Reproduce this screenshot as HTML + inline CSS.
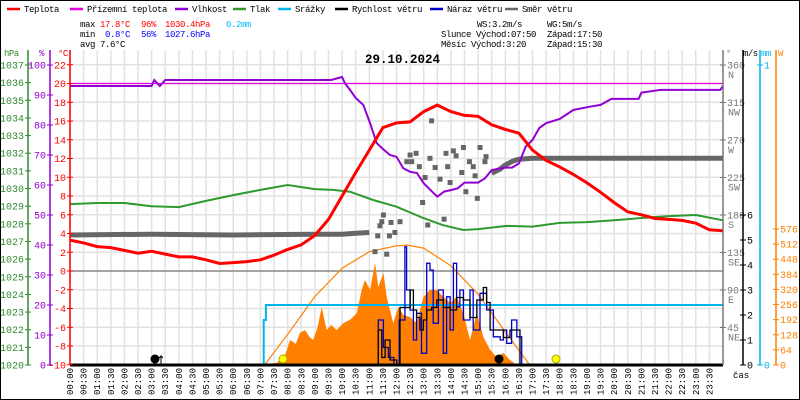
<!DOCTYPE html>
<html><head><meta charset="utf-8"><style>
html,body{margin:0;padding:0;background:#fff}
svg{display:block;font-family:"Liberation Mono",monospace}
</style></head><body>
<svg id="c" width="800" height="400" viewBox="0 0 800 400" xmlns="http://www.w3.org/2000/svg">
<rect x="0.5" y="0.5" width="799" height="399" fill="#fff" stroke="#000"/>
<g id="grid"></g>
<g id="series"></g>
<g id="axes"></g>
<g id="legend" font-size="9" letter-spacing="-0.4"></g>
<g font-size="9" letter-spacing="-0.4">
<text x="80" y="27">max</text><text x="100" y="27" fill="#f00">17.8°C</text><text x="141" y="27" fill="#f00">96%</text><text x="165" y="27" fill="#f00">1030.4hPa</text><text x="226" y="27" fill="#0bf">0.2mm</text>
<text x="80" y="37">min</text><text x="105" y="37" fill="#00f">0.8°C</text><text x="141" y="37" fill="#00f">56%</text><text x="165" y="37" fill="#00f">1027.6hPa</text>
<text x="80" y="47">avg</text><text x="100" y="47">7.6°C</text>
<text x="477" y="27">WS:3.2m/s</text><text x="547" y="27">WG:5m/s</text>
<text x="441" y="37">Slunce Východ:07:50</text><text x="547" y="37">Západ:17:50</text>
<text x="441" y="47">Měsíc  Východ:3:20</text><text x="547" y="47">Západ:15:30</text>
</g>
<text x="365" y="63" font-size="12.5" font-weight="bold">29.10.2024</text>
</svg>
<script>
// ---- data ----
const tempHours=[0,0.5,1,1.5,2,2.5,3,3.5,4,4.5,5,5.5,6,6.5,7,7.5,8,8.5,9,9.5,10,10.5,11,11.5,12,12.5,13,13.5,14,14.5,15,15.5,16,16.5,17,17.5,18,18.5,19,19.5,20,20.5,21,21.5,22,22.5,23,23.5,24];
const tempValues=[3.3,3.0,2.6,2.5,2.2,1.9,2.1,1.8,1.5,1.5,1.2,0.8,0.9,1.0,1.2,1.7,2.3,2.8,3.8,5.5,8.0,10.5,12.9,15.3,15.8,15.9,17.0,17.7,17.0,16.6,16.5,15.6,15.1,14.7,12.9,11.8,11.1,10.3,9.4,8.4,7.3,6.3,6.0,5.6,5.5,5.4,5.1,4.4,4.3];
const humHours=[0,3,3.1,3.3,3.5,9.6,10.0,10.1,10.29,10.5,10.78,11.03,11.27,11.5,11.76,12.0,12.25,12.5,12.75,13.0,13.25,13.5,13.75,14.0,14.25,14.5,15.0,15.25,15.5,16.0,16.25,16.5,16.75,17.0,17.25,17.5,18.0,18.5,19.1,19.5,19.9,20.9,21.0,21.7,23.9,24];
const humValues=[93,93,95,93,95,95,96,94,91.7,89,86.7,80.6,74,72,70,69.4,65.6,64.4,64,60.6,58.3,56.1,57.8,58.3,58.9,60.8,60.8,62.2,65,65.8,65.8,67.2,72.8,75,79,80.6,82,85,86.1,86.7,88.7,88.7,90.8,91.7,91.7,93];
const presHours=[0,1,2,3,4,5,6,7,8,9,9.67,10.29,11.14,12,12.98,13.7,14.45,15,16.05,17,18,19,20,21,22,23,24];
const presValues=[1029.12,1029.18,1029.18,1029.0,1028.95,1029.3,1029.63,1029.92,1030.2,1029.97,1029.92,1029.82,1029.35,1028.97,1028.33,1027.93,1027.65,1027.7,1027.88,1027.84,1028.05,1028.1,1028.2,1028.33,1028.44,1028.5,1028.2];
const dirLineHours=[0,3,6,9,10,10.5,11.0];
const dirLineValues=[156,157,156,157,157,158,159];
const dirLine2Hours=[15.5,15.8,16,16.3,16.5,17,20,24];
const dirLine2Values=[230,235,240,245,247,248,248,248];
const dirPtHours=[13.29,12.50,12.72,12.38,12.56,12.84,13.23,13.42,13.82,14.09,14.19,14.46,14.68,14.82,15.07,15.29,15.25,13.88,14.40,13.05,13.60,13.97,14.89,14.55,14.97,12.96,13.75,13.15,11.52,11.46,11.39,11.80,12.13,11.31,11.74,11.94,11.21,11.64];
const dirPtValues=[293,252,254,244,244,238,248,237,254,257,251,261,244,238,261,250,244,238,231,225,223,219,227,208,200,195,175,168,180,172,167,171,172,155,155,159,136,133];
const solarHours=[7.15,7.6,7.9,8.09,8.3,8.45,8.64,8.8,8.94,9.1,9.25,9.43,9.6,9.80,10.05,10.29,10.54,10.72,10.84,11.03,11.21,11.33,11.52,11.64,11.88,12.07,12.25,12.50,12.74,12.99,13.23,13.48,13.72,13.97,14.21,14.46,14.70,14.95,15.19,15.44,15.68,15.93,16.17,16.42];
const solarValues=[0,10,40,106,90,136,148,120,106,160,246,148,170,148,178,191,220,318,360,318,432,330,390,288,178,246,212,203,178,288,318,318,288,263,288,220,106,220,119,64,34,51,21,0];
const theoHours=[7.15,8,9,10,11,12,12.4,13,14,15,16,16.9];
const theoValues=[0,130,290,410,480,505,508,495,420,300,140,0];
const windHours=[11.15,11.33,11.46,11.58,11.76,12.01,12.13,12.31,12.50,12.62,12.74,12.86,12.99,13.11,13.29,13.48,13.72,13.97,14.21,14.46,14.70,14.95,15.19,15.31,15.44,15.62,15.93,16.17,16.36,16.54];
const windValues=[0,1.4,0.3,1.0,0.2,0,2.3,2.3,3.0,2.2,1.9,1.4,1.8,2.2,2.3,2.6,2.3,2.2,2.7,2.6,1.9,2.6,3.1,2.5,1.4,1.4,1.1,1.4,1.4,0];
const gustHours=[11.21,11.33,11.52,11.7,11.9,12.1,12.31,12.37,12.50,12.62,12.74,12.92,13.11,13.23,13.35,13.54,13.72,13.84,13.97,14.09,14.21,14.33,14.46,14.70,14.82,15.07,15.31,15.56,15.81,15.93,16.05,16.23,16.42,16.6];
const gustValues=[0,1.8,0.7,0.3,0,1.8,4.73,3.0,2.2,1.0,2.07,0.47,4.07,3.8,1.67,3.0,0.47,2.73,1.4,4.07,2.33,3.0,1.8,3.0,1.4,2.87,2.2,1.13,1.0,1.4,0.87,1.8,1.13,0];
const rainHours=[0,7.08,7.12,7.2,24];
const rainValues=[0,0,0.15,0.2,0.2];
const timeLabels=["00:00","00:30","01:00","01:30","02:00","02:30","03:00","03:30","04:00","04:30","05:00","05:30","06:00","06:30","07:00","07:30","08:00","08:30","09:00","09:30","10:00","10:30","11:00","11:30","12:00","12:30","13:00","13:30","14:00","14:30","15:00","15:30","16:00","16:30","17:00","17:30","18:00","18:30","19:00","19:30","20:00","20:30","21:00","21:30","22:00","22:30","23:00","23:30"];
const tempTicks=[22,20,18,16,14,12,10,8,6,4,2,0,-2,-4,-6,-8,-10];
const presTicks=[1037,1036,1035,1034,1033,1032,1031,1030,1029,1028,1027,1026,1025,1024,1023,1022,1021,1020];
const humTicks=[100,90,80,70,60,50,40,30,20,10,0];
const dirTicks=[360,315,270,225,180,135,90,45];
const dirNames=["N","NW","W","SW","S","SE","E","NE"];
const windTicks=[6,5,4,3,2,1,0];
const rainTicks=[1,0];
const solarTicks=[576,512,448,384,320,256,192,128,64,0];

// ---- scales ----
const X=h=>70+h*27.208;
const yT=t=>271-t*9.375;
const yP=p=>365-(p-1020)*17.647;
const yH=v=>365-v*3;
const yD=d=>365-d*0.8333;
const yW=v=>365-v*25;
const yR=v=>365-v*300;
const yS=v=>365-v*0.2361;
const NS="http://www.w3.org/2000/svg";
function mk(tag,attrs,parent){const e=document.createElementNS(NS,tag);for(const k in attrs)e.setAttribute(k,attrs[k]);parent.appendChild(e);return e;}
const grid=document.getElementById('grid'),ser=document.getElementById('series'),ax=document.getElementById('axes'),leg=document.getElementById('legend');

// grid
tempTicks.forEach(t=>{const l=mk('line',{x1:70,x2:723,y1:yT(t),y2:yT(t),stroke:'#e2e2e2','stroke-width':1.5},grid);

});
timeLabels.forEach((s,i)=>{const x=X(i*0.5);const l=mk('line',{x1:x,x2:x,y1:50,y2:365,stroke:'#e2e2e2','stroke-width':1.5},grid);

});
const zl=mk('line',{x1:70,x2:723,y1:yT(0),y2:yT(0),stroke:'#777','stroke-width':1.3},grid);



function pts(hs,vs,fy){return hs.map((h,i)=>X(h).toFixed(1)+','+fy(vs[i]).toFixed(1)).join(' ');}
function step(hs,vs,fy){let s='';hs.forEach((h,i)=>{if(i>0)s+=X(h).toFixed(1)+','+fy(vs[i-1]).toFixed(1)+' ';s+=X(h).toFixed(1)+','+fy(vs[i]).toFixed(1)+' ';});return s;}

// solar area
let sp=X(solarHours[0])+','+365+' '+pts(solarHours,solarValues,yS)+' '+X(solarHours[solarHours.length-1])+',365';
const sa=mk('polygon',{points:sp,fill:'#ff8000'},ser);


const th=mk('polyline',{points:pts(theoHours,theoValues,yS),fill:'none',stroke:'#ff8000','stroke-width':1.2},ser);


// ground temp line
const gt=mk('line',{x1:70,x2:723,y1:yT(20),y2:yT(20),stroke:'#e000e0','stroke-width':1.3},ser);


// rain
const rn=mk('polyline',{points:step(rainHours,rainValues,yR),fill:'none',stroke:'#00b4f0','stroke-width':2},ser);


// wind direction
const d1=mk('polyline',{points:pts(dirLineHours,dirLineValues,yD),fill:'none',stroke:'#666','stroke-width':5},ser);


const d2=mk('polyline',{points:pts(dirLine2Hours,dirLine2Values,yD),fill:'none',stroke:'#666','stroke-width':5},ser);


dirPtHours.forEach((h,i)=>{const r=mk('rect',{x:X(h)-2.5,y:yD(dirPtValues[i])-2.5,width:5,height:5,fill:'#666'},ser);

});
// pressure, humidity, temp
const pr=mk('polyline',{points:pts(presHours,presValues,yP),fill:'none',stroke:'#2e9a2e','stroke-width':2},ser);


const hu=mk('polyline',{points:pts(humHours,humValues,yH),fill:'none',stroke:'#9400d3','stroke-width':2},ser);


const te=mk('polyline',{points:pts(tempHours,tempValues,yT),fill:'none',stroke:'#f00','stroke-width':3},ser);


// wind
const gu=mk('polyline',{points:step(gustHours,gustValues,yW),fill:'none',stroke:'#0000c8','stroke-width':1.3},ser);


const ws=mk('polyline',{points:step(windHours,windValues,yW),fill:'none',stroke:'#000','stroke-width':1.3},ser);


const base=mk('line',{x1:70,x2:723,y1:365,y2:365,stroke:'#000','stroke-width':3},ser);


// sun / moon markers
[[155,'#000'],[283,'#ff0'],[499,'#000'],[556,'#ff0']].forEach(m=>{const c=mk('circle',{cx:m[0],cy:359,r:4,fill:m[1],stroke:m[1]=='#000'?'#000':'#aa0'},ser);

});
mk('polyline',{points:'161,365 161,356 159,358 161,356 163,358',fill:'none',stroke:'#000'},ser);

// axes
function axis(x,color,ticks,fy,fmt,side,name){
 const a=mk('line',{x1:x,x2:x,y1:50,y2:365,stroke:color,'stroke-width':1.5},ax);
 
 
 ticks.forEach((t,i)=>{const y=fy(t);mk('line',{x1:x-3,x2:x+3,y1:y,y2:y,stroke:color},ax);
  const tx=mk('text',{x:side<0?x-4:x+4,y:y+3.5,fill:color,'font-size':10,'text-anchor':side<0?'end':'start'},ax);tx.textContent=fmt(t,i);});
}
axis(28,'#2e8b2e',presTicks,yP,t=>t,-1,'pressure-axis');
axis(50,'#9400d3',humTicks,yH,t=>t,-1,'humidity-axis');
axis(70,'#f00',tempTicks,yT,t=>t,-1,'temperature-axis');
axis(723,'#777',dirTicks,yD,t=>t,1,'wind-direction-axis');
dirNames.forEach((n,i)=>{const t=mk('text',{x:728,y:yD(dirTicks[i])+13,fill:'#777','font-size':10},ax);t.textContent=n;});
axis(743,'#000',windTicks,yW,t=>t,1,'wind-speed-axis');
axis(760,'#00b4f0',rainTicks,yR,t=>t,1,'precipitation-axis');
axis(776,'#ff8000',solarTicks,yS,t=>t,1,'solar-axis');
[['hPa',4,'#2e8b2e'],['%',39,'#9400d3'],['°C',58,'#f00'],['°',726,'#777'],['m/s',743,'#000'],['mm',761,'#00b4f0'],['W',778,'#ff8000']].forEach(u=>{const t=mk('text',{x:u[1],y:56,fill:u[2],'font-size':9,'letter-spacing':-0.5},ax);t.textContent=u[0];});
timeLabels.forEach((s,i)=>{const x=X(i*0.5)+3;const t=mk('text',{x:0,y:0,'font-size':9,'text-anchor':'end',transform:`translate(${x},368) rotate(-90)`},ax);t.textContent=s;

});
const cas=mk('text',{x:733,y:378,'font-size':9},ax);cas.textContent='čas';

// legend
[['Teplota','#f00',7],['Přízemní teplota','#e000e0',70],['Vlhkost','#9400d3',175],['Tlak','#2e9a2e',233],['Srážky','#00b4f0',278],['Rychlost větru','#000',335],['Náraz větru','#0000c8',430],['Směr větru','#666',505]].forEach(l=>{
 const g=mk('g',{},leg);
 
 
 mk('line',{x1:l[2],x2:l[2]+13,y1:9,y2:9,stroke:l[1],'stroke-width':2.5},g);
 const t=mk('text',{x:l[2]+17,y:12},g);t.textContent=l[0];});
</script>
</body></html>
